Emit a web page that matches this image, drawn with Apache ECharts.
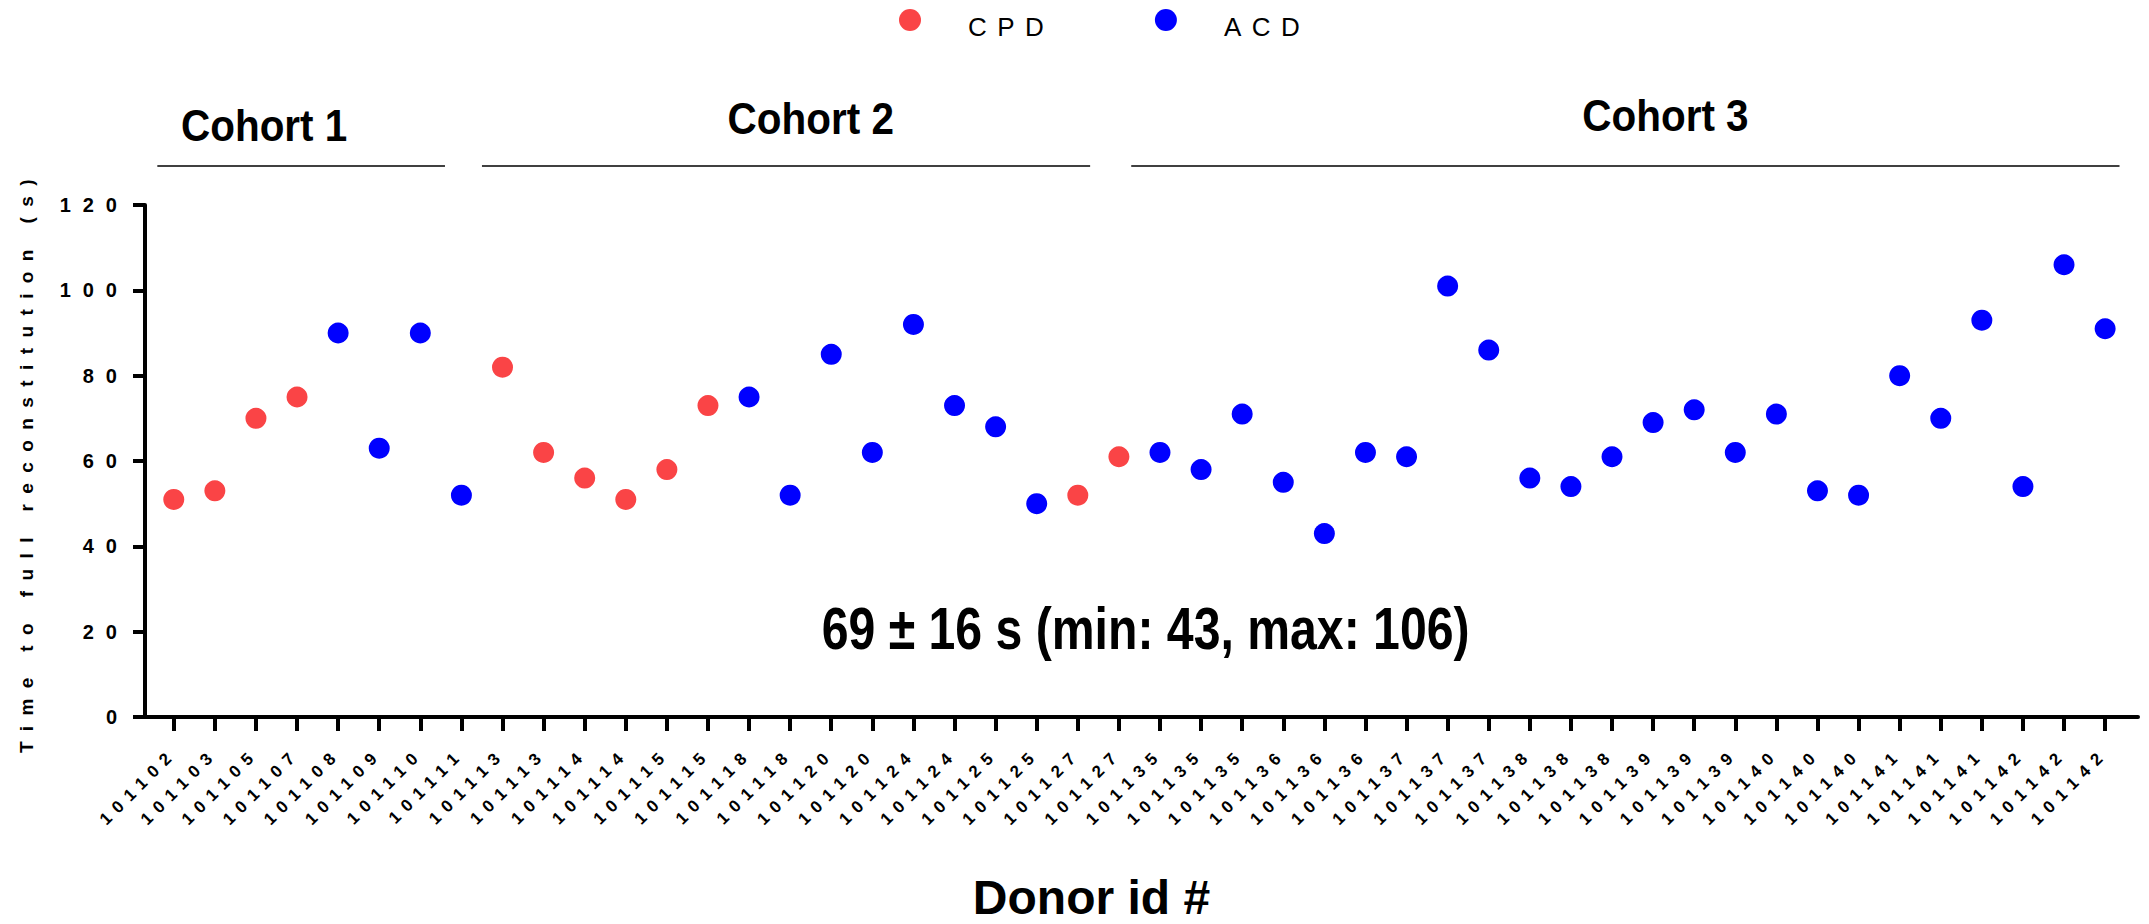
<!DOCTYPE html>
<html>
<head>
<meta charset="utf-8">
<script src="https://cdn.jsdelivr.net/npm/echarts@6/dist/echarts.min.js"></script>
<style>
  html, body { margin: 0; padding: 0; background: #fff; }
  #main { width: 2149px; height: 924px; }
  /* small labels in the original are drawn with wide letter spacing */
  #main text[style*="20px"] { letter-spacing: 12px; }
  #main text[style*="17px"] { letter-spacing: 7.5px; }
  #main text[style*="26px"] { letter-spacing: 10.5px; }
  #main text[style*="19px"] { letter-spacing: 10.4px; }
</style>
</head>
<body>
<div id="main"></div>
<script>
// donor ids, one per point, in plotting order
const donorIds = [
  "101102", "101103", "101105", "101107", "101108", "101109", "101110", "101111",
  "101113", "101113", "101114", "101114", "101115", "101115", "101118", "101118",
  "101120", "101120", "101124", "101124", "101125", "101125", "101127", "101127",
  "101135", "101135", "101135", "101136", "101136", "101136", "101137", "101137",
  "101137", "101138", "101138", "101138", "101139", "101139", "101139", "101140",
  "101140", "101140", "101141", "101141", "101141", "101142", "101142", "101142",
];
// time to full reconstitution (s)
const times = [
  51, 53, 70, 75, 90, 63, 90, 52,
  82, 62, 56, 51, 58, 73, 75, 52,
  85, 62, 92, 73, 68, 50, 52, 61,
  62, 58, 71, 55, 43, 62, 61, 101,
  86, 56, 54, 61, 69, 72, 62, 71,
  53, 52, 80, 70, 93, 54, 106, 91,
];
const groups = [
  "CPD", "CPD", "CPD", "CPD", "ACD", "ACD", "ACD", "ACD",
  "CPD", "CPD", "CPD", "CPD", "CPD", "CPD", "ACD", "ACD",
  "ACD", "ACD", "ACD", "ACD", "ACD", "ACD", "CPD", "CPD",
  "ACD", "ACD", "ACD", "ACD", "ACD", "ACD", "ACD", "ACD",
  "ACD", "ACD", "ACD", "ACD", "ACD", "ACD", "ACD", "ACD",
  "ACD", "ACD", "ACD", "ACD", "ACD", "ACD", "ACD", "ACD",
];
const groupNames = ["CPD", "ACD"];
const groupColors = ["#FA4446", "#0000FF"];

const cohortNames = ["Cohort 1", "Cohort 2", "Cohort 3"];
const summaryText = "69 ± 16 s (min: 43, max: 106)";

const tickIdx = donorIds.map((d, i) => i);

var chartDom = document.getElementById("main");
var myChart = echarts.init(chartDom, null, { renderer: "svg" });

const series = groupNames.map((g, k) => ({
  name: g,
  type: "scatter",
  symbol: "circle",
  symbolSize: 21,
  itemStyle: { color: groupColors[k], opacity: 1 },
  data: times
    .map((t, i) => [i, t, groups[i]])
    .filter((p) => p[2] === g)
    .map((p) => [p[0], p[1]]),
}));

// legend dot sits a little above its label: circle in the top of a taller box
const legendDot = "path://M0,11a11,11 0 1,0 22,0a11,11 0 1,0 -22,0zM11,36L11,36";

var option = {
  animation: false,
  backgroundColor: "#fff",
  legend: {
    left: 894,
    top: 4,
    itemWidth: 106,
    itemHeight: 36,
    itemGap: 132,
    icon: legendDot,
    data: groupNames,
    textStyle: {
      fontSize: 26,
      fontFamily: "Liberation Sans",
      color: "#000",
    },
  },
  grid: {
    left: 145,
    right: 11,
    top: 205,
    bottom: 207,
    containLabel: false,
    outerBoundsMode: "none",
  },
  xAxis: {
    type: "value",
    min: -0.7,
    max: 47.8,
    splitLine: { show: false },
    axisLine: { onZero: false, lineStyle: { color: "#000", width: 4 } },
    axisTick: {
      show: true,
      customValues: tickIdx,
      length: 14,
      lineStyle: { color: "#000", width: 4 },
    },
    axisLabel: {
      customValues: tickIdx,
      rotate: 45,
      margin: 34,
      fontSize: 17,
      fontWeight: "bold",
      fontFamily: "Liberation Sans",
      color: "#000",
      formatter: (v) => donorIds[Math.round(v)],
    },
    name: "Donor id #",
    nameLocation: "middle",
    nameGap: 160,
    nameTextStyle: {
      fontSize: 48,
      lineHeight: 40,
      fontWeight: "bold",
      fontFamily: "Liberation Sans",
      color: "#000",
      padding: [0, 100, 0, 0],
    },
  },
  yAxis: {
    type: "value",
    min: 0,
    max: 120,
    interval: 20,
    splitLine: { show: false },
    axisLine: { show: true, onZero: false, lineStyle: { color: "#000", width: 4 } },
    axisTick: { show: true, length: 12, lineStyle: { color: "#000", width: 4 } },
    axisLabel: {
      margin: 16,
      fontSize: 20,
      fontWeight: "bold",
      fontFamily: "Liberation Sans",
      color: "#000",
    },
    name: "Time to full reconstitution (s)",
    nameLocation: "middle",
    nameRotate: 90,
    nameGap: 109,
    nameTextStyle: {
      fontSize: 19,
      fontWeight: "bold",
      fontFamily: "Liberation Sans",
      color: "#000",
    },
  },
  series: series,
};

option && myChart.setOption(option);

// cohort brackets above the plot, placed in x-axis units
const cohortSpans = [[-0.4, 6.6], [7.5, 22.3], [23.3, 47.35]];
const cohortLabelAt = [2.2, 15.5, 36.3];
const cohortLabelY = [126, 119, 116];
const px = (v) => myChart.convertToPixel({ xAxisIndex: 0 }, v);

const graphics = [];
cohortNames.forEach((name, i) => {
  graphics.push({
    type: "line",
    shape: { x1: px(cohortSpans[i][0]), y1: 166, x2: px(cohortSpans[i][1]), y2: 166 },
    style: { stroke: "#000", lineWidth: 1.6 },
  });
  graphics.push({
    type: "text",
    x: px(cohortLabelAt[i]),
    y: cohortLabelY[i],
    scaleX: 0.92,
    style: {
      text: name,
      fontSize: 44,
      fontWeight: "bold",
      fontFamily: "Liberation Sans",
      fill: "#000",
      align: "center",
      verticalAlign: "middle",
    },
  });
});
graphics.push({
  type: "text",
  x: px(23.65),
  y: 628,
  scaleX: 0.817,
  style: {
    text: summaryText,
    fontSize: 59,
    fontWeight: "bold",
    fontFamily: "Liberation Sans",
    fill: "#000",
    align: "center",
    verticalAlign: "middle",
  },
});
myChart.setOption({ graphic: graphics });
</script>
</body>
</html>
